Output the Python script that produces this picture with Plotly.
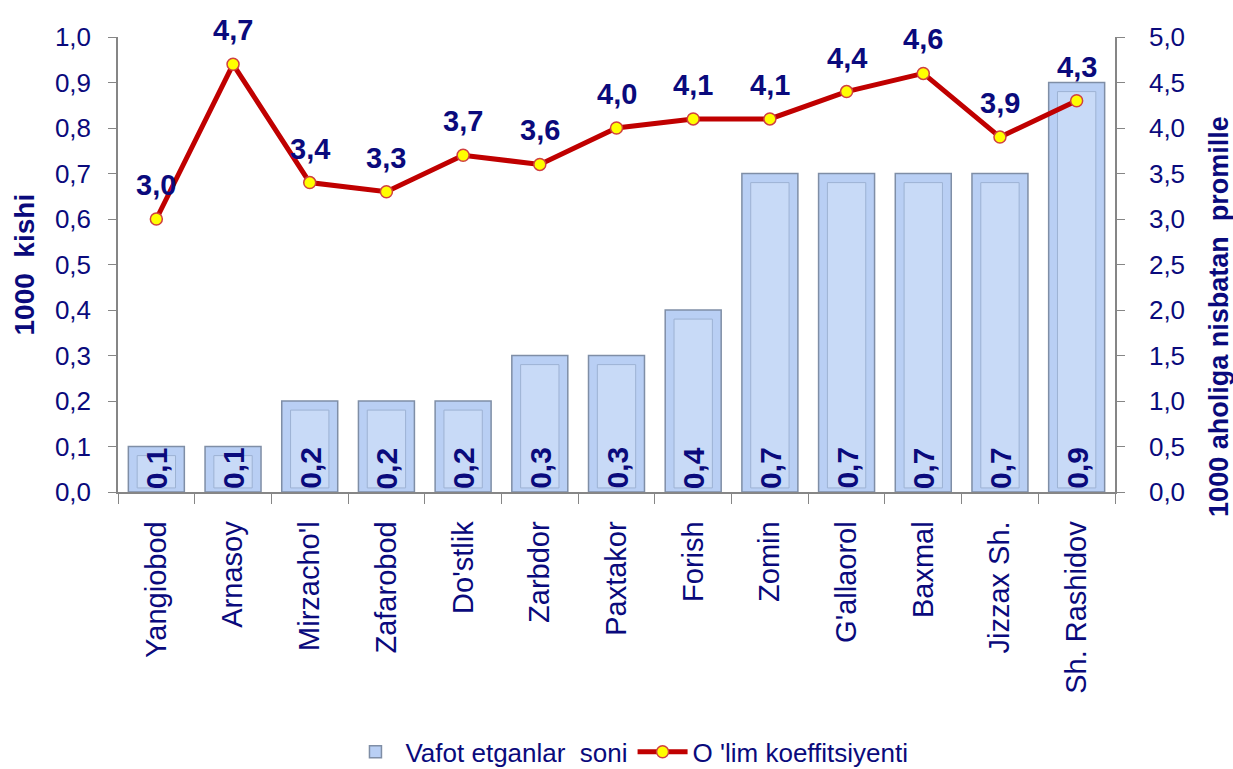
import plotly.graph_objects as go

categories = ["Yangiobod", "Arnasoy", "Mirzacho'l", "Zafarobod", "Do'stlik", "Zarbdor",
              "Paxtakor", "Forish", "Zomin", "G'allaorol", "Baxmal", "Jizzax Sh.", "Sh. Rashidov"]
deaths = [0.1, 0.1, 0.2, 0.2, 0.2, 0.3, 0.3, 0.4, 0.7, 0.7, 0.7, 0.7, 0.9]
coef = [3.0, 4.7, 3.4, 3.3, 3.7, 3.6, 4.0, 4.1, 4.1, 4.4, 4.6, 3.9, 4.3]

NAVY = "#0a0a7c"
GRAY = "#868686"
FONT = "Liberation Sans, Arial, sans-serif"

def fmt(v):
    return f"{v:.1f}".replace(".", ",")

fig = go.Figure()
# outer bar
fig.add_trace(go.Bar(
    x=categories, y=deaths, name="Vafot etganlar&nbsp;&nbsp;soni", width=0.73,
    marker=dict(color="#b9cff4", line=dict(color="#7f8ea6", width=1.5)),
    hoverinfo="x+y",
))
# inner bevel panel (decorative, derived from the same data)
fig.add_trace(go.Bar(
    x=categories, y=[v - 0.029 for v in deaths], base=0.009, width=0.5,
    marker=dict(color="#c8daf7", line=dict(color="#9db2d3", width=1)),
    showlegend=False, hoverinfo="skip",
))
fig.add_trace(go.Scatter(
    x=categories, y=coef, name="O 'lim koeffitsiyenti", yaxis="y2",
    mode="lines+markers",
    line=dict(color="#c00000", width=5),
    marker=dict(color="#ffff00", size=12, line=dict(color="#d04040", width=1.5)),
    cliponaxis=False,
))

annotations = []
for c, v in zip(categories, deaths):
    annotations.append(dict(x=c, y=0, xref="x", yref="y", text=f"<b>{fmt(v)}</b>",
                            textangle=-90, showarrow=False, yanchor="bottom", xanchor="center",
                            yshift=1, font=dict(family=FONT, size=30, color=NAVY)))
for c, v in zip(categories, coef):
    annotations.append(dict(x=c, y=v, xref="x", yref="y2", text=f"<b>{fmt(v)}</b>",
                            showarrow=False, yanchor="bottom", xanchor="center",
                            yshift=16, font=dict(family=FONT, size=29, color=NAVY)))
# axis titles
annotations.append(dict(x=-0.0933, y=0.5, xref="paper", yref="paper",
                        text="<b>1000&nbsp;&nbsp;kishi</b>", textangle=-90, showarrow=False,
                        xanchor="center", yanchor="middle", font=dict(family=FONT, size=28, color=NAVY)))
annotations.append(dict(x=1.1043, y=0.387, xref="paper", yref="paper",
                        text="<b>1000 aholiga nisbatan&nbsp;&nbsp;promille</b>", textangle=-90, showarrow=False,
                        xanchor="center", yanchor="middle", font=dict(family=FONT, size=27, color=NAVY)))

fig.update_layout(
    width=1233, height=769,
    margin=dict(l=118, r=118, t=37, b=277, autoexpand=False),
    paper_bgcolor="white", plot_bgcolor="white",
    font=dict(family=FONT, color=NAVY, size=20),
    barmode="overlay",
    showlegend=True,
    annotations=annotations,
    legend=dict(orientation="h", x=0.513, xanchor="center", y=-0.571, yanchor="middle",
                font=dict(size=26, color=NAVY), traceorder="normal", itemwidth=50),
    xaxis=dict(range=[-0.5, len(categories) - 0.5],
               showline=True, linecolor=GRAY, linewidth=1.5, ticks="outside", automargin=False,
               tickson="boundaries", ticklen=10, tickcolor=GRAY, tickangle=-90,
               ticklabelstandoff=16,
               tickfont=dict(size=29, color=NAVY), showgrid=False),
    yaxis=dict(range=[0, 1.0], dtick=0.1, tickformat=".1f", showline=True, linecolor=GRAY,
               linewidth=1.5, ticks="outside", ticklen=8, tickcolor=GRAY, showgrid=False,
               ticklabelstandoff=12, automargin=False,
               tickfont=dict(size=26, color=NAVY), zeroline=False),
    yaxis2=dict(range=[0, 5.0], dtick=0.5, tickformat=".1f", overlaying="y", side="right",
                showline=True, linecolor=GRAY, linewidth=1.5, ticks="outside", ticklen=8,
                tickcolor=GRAY, showgrid=False, zeroline=False, ticklabelstandoff=19,
                automargin=False, tickfont=dict(size=26, color=NAVY)),
    separators=",.",
)

fig.write_html("out.html", config={"displayModeBar": False},
               post_script="document.body.style.margin='0px';document.body.style.overflow='hidden';")
